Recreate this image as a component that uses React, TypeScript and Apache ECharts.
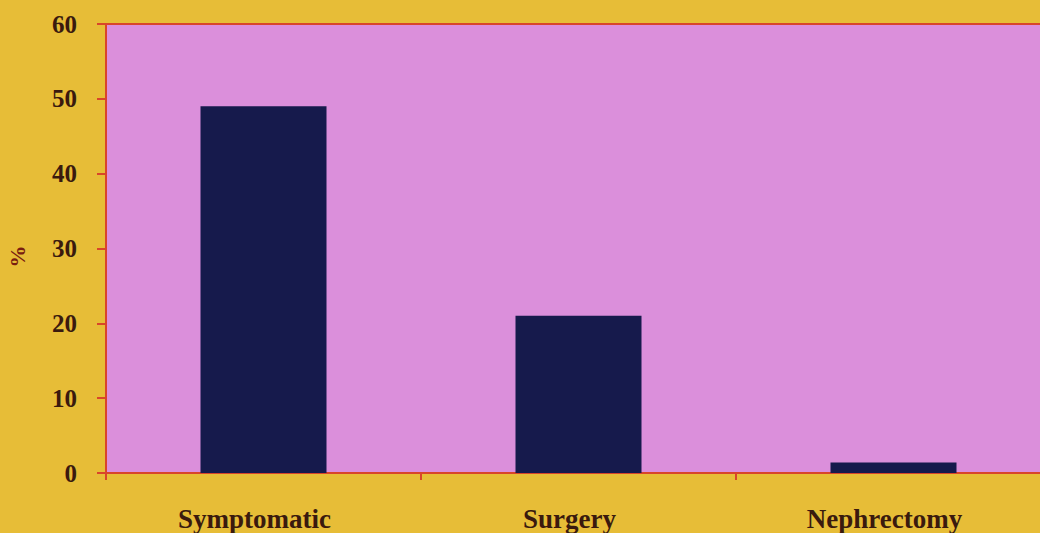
import React, { useEffect, useRef } from "react";
import * as echarts from "echarts";

const categories = ["Symptomatic", "Surgery", "Nephrectomy"];
const percentValues = [49, 21, 1.4];
const yTicks = [0, 10, 20, 30, 40, 50, 60];

const FONT = "'Liberation Serif', 'DejaVu Serif', serif";

export default function App() {
  const ref = useRef<HTMLDivElement>(null);
  useEffect(() => {
    if (!ref.current) return;
    const chart = echarts.init(ref.current, undefined, { renderer: "svg" });
    chart.setOption({
      animation: false,
      backgroundColor: "#E7BD37",
      grid: {
        left: 106,
        top: 24,
        width: 945,
        height: 449,
        show: true,
        backgroundColor: "#DB8FDB",
        borderWidth: 0,
        outerBoundsMode: "none",
        containLabel: false,
      },
      xAxis: [
        {
          type: "category",
          data: categories,
          axisLine: { lineStyle: { color: "#D9452A", width: 2 } },
          axisTick: { show: true, length: 7, lineStyle: { color: "#D9452A", width: 2 } },
          axisLabel: {
            margin: 32,
            color: "#3A1A0E",
            fontFamily: FONT,
            fontWeight: "bold",
            fontSize: 27,
            padding: [0, 18, 0, 0],
          },
        },
        {
          type: "category",
          position: "top",
          data: categories,
          axisLine: { lineStyle: { color: "#D9452A", width: 2 } },
          axisTick: { show: false },
          axisLabel: { show: false },
        },
      ],
      yAxis: {
        type: "value",
        min: 0,
        max: 60,
        interval: 10,
        name: "%",
        nameLocation: "middle",
        nameGap: 78,
        nameRotate: 90,
        nameTextStyle: {
          color: "#7A1E10",
          fontFamily: FONT,
          fontWeight: "bold",
          fontSize: 22,
          padding: [0, 16, 0, 0],
        },
        axisLine: { show: true, lineStyle: { color: "#D9452A", width: 2 } },
        axisTick: { show: true, length: 9, lineStyle: { color: "#D9452A", width: 2 } },
        splitLine: { show: false },
        axisLabel: {
          margin: 29,
          color: "#3A1A0E",
          fontFamily: FONT,
          fontWeight: "bold",
          fontSize: 25,
        },
        data: yTicks,
      },
      series: [
        {
          type: "bar",
          data: percentValues,
          barWidth: "40%",
          itemStyle: { color: "#161A4C" },
        },
      ],
    });
    return () => chart.dispose();
  }, []);
  return (
    <div
      ref={ref}
      style={{ position: "absolute", left: 0, top: 0, width: 1040, height: 533 }}
    />
  );
}
